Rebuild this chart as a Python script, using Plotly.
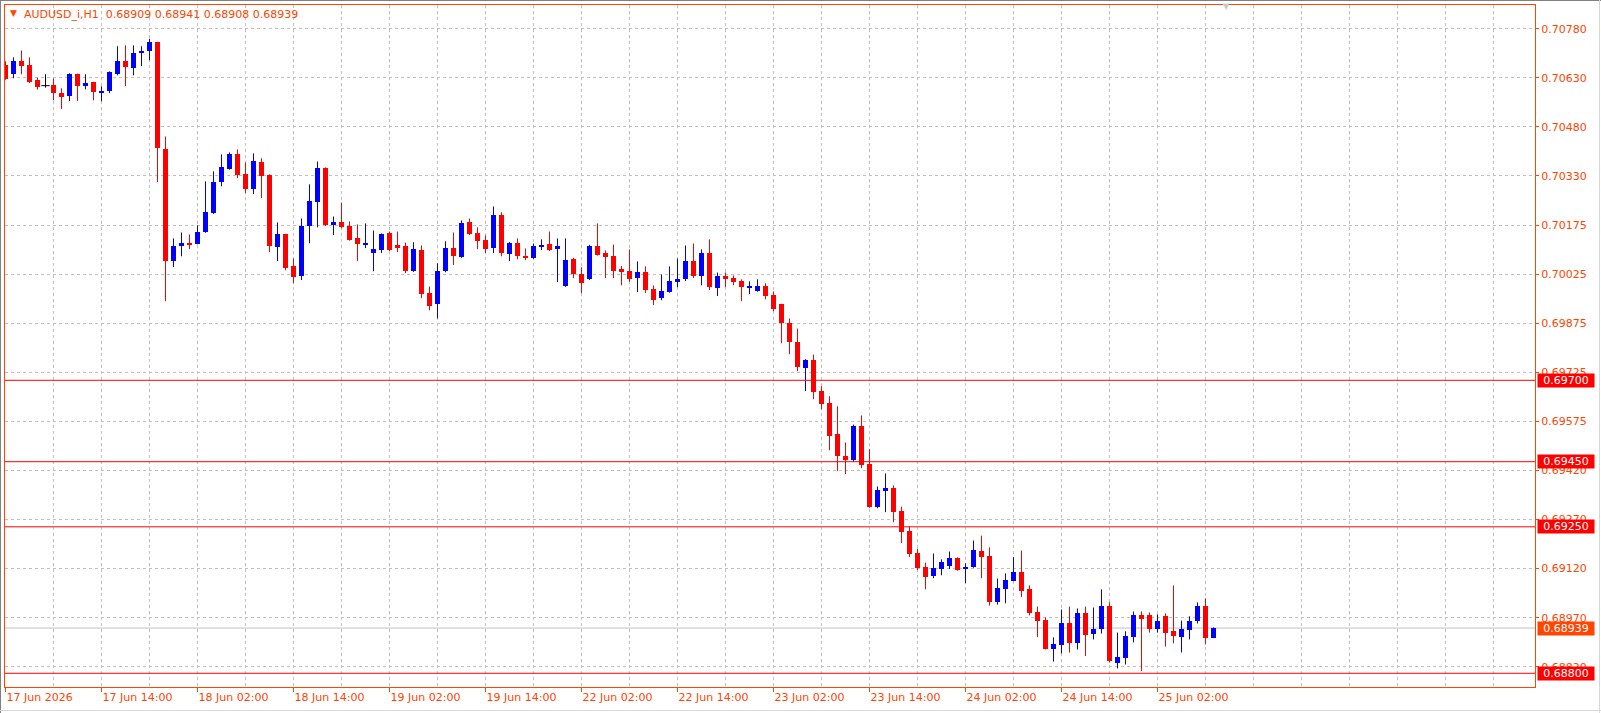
import plotly.graph_objects as go

# ---------------- data (AUDUSD_i, H1) ----------------
open_ = [0.70667,0.70640,0.70680,0.70667,0.70621,0.70605,0.70606,0.70584,0.70573,0.70640,
0.70605,0.70615,0.70585,0.70588,0.70640,0.70680,0.70659,0.70705,0.70711,0.70738,
0.70412,0.70066,0.70112,0.70123,0.70120,0.70155,0.70213,0.70309,0.70349,0.70394,
0.70335,0.70287,0.70372,0.70330,0.70109,0.70148,0.70050,0.70020,0.70174,0.70247,
0.70351,0.70177,0.70185,0.70173,0.70136,0.70118,0.70091,0.70100,0.70151,0.70117,
0.70111,0.70035,0.70099,0.69967,0.69933,0.70035,0.70105,0.70078,0.70185,0.70154,
0.70130,0.70106,0.70209,0.70087,0.70123,0.70083,0.70075,0.70109,0.70120,0.70103,
0.69989,0.70074,0.70028,0.70011,0.70114,0.70090,0.70081,0.70041,0.70037,0.70014,
0.70034,0.69979,0.69952,0.69971,0.70002,0.70011,0.70065,0.70020,0.70090,0.69983,
0.70019,0.70013,0.70004,0.69986,0.69974,0.69991,0.69961,0.69933,0.69875,0.69819,
0.69737,0.69761,0.69667,0.69630,0.69534,0.69466,0.69455,0.69561,0.69442,0.69310,
0.69359,0.69368,0.69297,0.69236,0.69168,0.69125,0.69098,0.69120,0.69129,0.69153,
0.69120,0.69126,0.69177,0.69159,0.69018,0.69058,0.69085,0.69110,0.69058,0.68987,
0.68965,0.68876,0.68886,0.68956,0.68892,0.68984,0.68922,0.68935,0.69008,0.68833,
0.68846,0.68910,0.68978,0.68978,0.68935,0.68975,0.68929,0.68913,0.68932,0.68962,
0.69008,0.68909]
high = [0.70680,0.70692,0.70713,0.70692,0.70629,0.70640,0.70627,0.70597,0.70643,0.70642,
0.70640,0.70617,0.70603,0.70649,0.70726,0.70729,0.70729,0.70726,0.70749,0.70740,
0.70449,0.70136,0.70154,0.70148,0.70176,0.70311,0.70342,0.70394,0.70400,0.70409,
0.70369,0.70397,0.70382,0.70333,0.70185,0.70150,0.70074,0.70197,0.70302,0.70372,
0.70354,0.70203,0.70246,0.70188,0.70179,0.70182,0.70160,0.70151,0.70157,0.70157,
0.70123,0.70124,0.70114,0.69988,0.70059,0.70127,0.70154,0.70191,0.70197,0.70170,
0.70145,0.70234,0.70216,0.70125,0.70136,0.70105,0.70120,0.70133,0.70157,0.70136,
0.70136,0.70076,0.70047,0.70116,0.70182,0.70099,0.70117,0.70051,0.70102,0.70065,
0.70050,0.69991,0.70025,0.70050,0.70074,0.70114,0.70120,0.70102,0.70133,0.70031,
0.70031,0.70022,0.70010,0.70004,0.70010,0.69998,0.69973,0.69935,0.69890,0.69859,
0.69765,0.69779,0.69682,0.69651,0.69620,0.69509,0.69564,0.69592,0.69488,0.69374,
0.69414,0.69377,0.69312,0.69251,0.69183,0.69140,0.69168,0.69150,0.69174,0.69156,
0.69138,0.69208,0.69223,0.69187,0.69091,0.69107,0.69157,0.69177,0.69070,0.69005,
0.68972,0.68910,0.68996,0.69005,0.68999,0.69005,0.69002,0.69058,0.69018,0.68925,
0.68929,0.68990,0.68990,0.68987,0.68981,0.68984,0.69070,0.68962,0.68975,0.69018,
0.69030,0.68941]
low = [0.70623,0.70628,0.70640,0.70613,0.70593,0.70599,0.70560,0.70533,0.70558,0.70558,
0.70594,0.70560,0.70557,0.70582,0.70637,0.70604,0.70637,0.70665,0.70683,0.70309,
0.69943,0.70048,0.70081,0.70103,0.70118,0.70153,0.70211,0.70296,0.70347,0.70321,
0.70275,0.70272,0.70260,0.70094,0.70066,0.70038,0.69998,0.70008,0.70121,0.70170,
0.70174,0.70146,0.70167,0.70129,0.70066,0.70106,0.70035,0.70091,0.70097,0.70094,
0.70029,0.70033,0.69952,0.69915,0.69890,0.70032,0.70054,0.70076,0.70146,0.70103,
0.70091,0.70091,0.70081,0.70066,0.70072,0.70069,0.70073,0.70100,0.70097,0.70002,
0.69987,0.70014,0.69968,0.70008,0.70083,0.70014,0.70014,0.69992,0.70002,0.69971,
0.69968,0.69931,0.69946,0.69969,0.69986,0.70005,0.70014,0.69992,0.69977,0.69959,
0.69986,0.69992,0.69943,0.69965,0.69972,0.69949,0.69912,0.69814,0.69780,0.69728,
0.69667,0.69642,0.69611,0.69485,0.69421,0.69412,0.69449,0.69430,0.69308,0.69307,
0.69295,0.69264,0.69200,0.69157,0.69117,0.69058,0.69092,0.69101,0.69120,0.69115,
0.69077,0.69124,0.69092,0.69008,0.69011,0.69015,0.69083,0.69034,0.68978,0.68911,
0.68873,0.68836,0.68861,0.68864,0.68873,0.68853,0.68904,0.68922,0.68833,0.68815,
0.68827,0.68895,0.68807,0.68925,0.68925,0.68882,0.68892,0.68864,0.68904,0.68953,
0.68889,0.68908]
close = [0.70625,0.70680,0.70665,0.70616,0.70601,0.70605,0.70582,0.70570,0.70640,0.70604,
0.70612,0.70585,0.70590,0.70646,0.70680,0.70662,0.70704,0.70713,0.70738,0.70413,
0.70066,0.70111,0.70123,0.70118,0.70157,0.70216,0.70308,0.70354,0.70394,0.70330,
0.70287,0.70375,0.70327,0.70112,0.70148,0.70045,0.70017,0.70173,0.70252,0.70351,
0.70176,0.70185,0.70171,0.70131,0.70118,0.70123,0.70102,0.70148,0.70100,0.70106,
0.70035,0.70102,0.69965,0.69928,0.70037,0.70105,0.70081,0.70182,0.70149,0.70127,
0.70103,0.70209,0.70091,0.70123,0.70081,0.70078,0.70111,0.70117,0.70100,0.70111,
0.70071,0.70026,0.69998,0.70114,0.70085,0.70078,0.70035,0.70035,0.70011,0.70034,
0.69977,0.69946,0.69973,0.70004,0.70010,0.70065,0.70020,0.70090,0.69986,0.70019,
0.70011,0.70002,0.69986,0.69991,0.69991,0.69959,0.69919,0.69876,0.69817,0.69740,
0.69762,0.69664,0.69627,0.69528,0.69467,0.69455,0.69561,0.69439,0.69310,0.69362,
0.69368,0.69295,0.69233,0.69166,0.69123,0.69095,0.69122,0.69143,0.69153,0.69117,
0.69128,0.69180,0.69157,0.69018,0.69061,0.69088,0.69110,0.69054,0.68984,0.68962,
0.68876,0.68889,0.68956,0.68892,0.68984,0.68919,0.68935,0.69008,0.68837,0.68849,
0.68916,0.68978,0.68968,0.68935,0.68962,0.68925,0.68916,0.68935,0.68962,0.69008,
0.68907,0.68939]

tick_bars = [0, 12, 24, 36, 48, 60, 72, 84, 96, 108, 120, 132, 144]
tick_labels = ["17 Jun 2026", "17 Jun 14:00", "18 Jun 02:00", "18 Jun 14:00",
               "19 Jun 02:00", "19 Jun 14:00", "22 Jun 02:00", "22 Jun 14:00",
               "23 Jun 02:00", "23 Jun 14:00", "24 Jun 02:00", "24 Jun 14:00",
               "25 Jun 02:00"]
price_ticks = [0.707800, 0.706292, 0.704785, 0.703277, 0.701769, 0.700262, 0.698754,
               0.697246, 0.695738, 0.694231, 0.692723, 0.691215, 0.689708, 0.688200]
price_labels = ["0.70780", "0.70630", "0.70480", "0.70330", "0.70175", "0.70025", "0.69875",
                "0.69725", "0.69575", "0.69420", "0.69270", "0.69120", "0.68970", "0.68820"]
levels = [0.69700, 0.69450, 0.69250, 0.68800]
symbol = "AUDUSD_i,H1"

# ---------------- styling ----------------
FG = "#FF4500"
UP = "#0000FF"
DN = "#FF0000"
GRID = "#C0C0C0"
FONT = "DejaVu Sans"
W, H = 1601, 713
ML, MR, MT, MB = 5, 66, 5, 26
PW, PH = W - ML - MR, H - MT - MB

n = len(close)
bars = list(range(n))

fig = go.Figure()

def color_of(i):
    if close[i] > open_[i]:
        return UP
    if close[i] < open_[i]:
        return DN
    return "#000000"

# wicks grouped by colour
for col in (UP, DN, "#000000"):
    xs, ys = [], []
    for i in bars:
        if color_of(i) == col:
            xs += [i, i, None]
            ys += [low[i], high[i], None]
    if xs:
        fig.add_trace(go.Scatter(x=xs, y=ys, mode="lines",
                                 line=dict(color=col, width=1),
                                 hoverinfo="skip", showlegend=False))

# bodies
for col in (UP, DN):
    idx = [i for i in bars if color_of(i) == col]
    fig.add_trace(go.Bar(x=idx,
                         y=[abs(close[i] - open_[i]) for i in idx],
                         base=[min(close[i], open_[i]) for i in idx],
                         width=0.625, marker=dict(color=col, line=dict(width=0)),
                         hoverinfo="skip", showlegend=False))

# doji bodies
dj = [i for i in bars if color_of(i) == "#000000"]
if dj:
    fig.add_trace(go.Scatter(x=dj, y=[open_[i] for i in dj], mode="markers",
                             marker=dict(symbol="line-ew", size=6,
                                         line=dict(color="#000000", width=1)),
                             hoverinfo="skip", showlegend=False))

# x range: 8 px per bar
x0 = -0.0625
x1 = x0 + PW / 8.0
# y range (px per price unit ~ 32556)
y_top = 0.708528
y_bot = 0.687579

shapes = []
for lv in levels:
    shapes.append(dict(type="line", xref="paper", x0=0, x1=1, yref="y", y0=lv, y1=lv,
                       line=dict(color=DN, width=1), layer="above"))
shapes.append(dict(type="line", xref="paper", x0=0, x1=1, yref="y",
                   y0=close[-1], y1=close[-1], line=dict(color=GRID, width=1), layer="below"))

def px_x(p):
    return (p - ML) / PW

def px_y(p):
    return (H - MB - p) / PH

# window frame
shapes.append(dict(type="line", xref="paper", yref="paper", x0=px_x(0), x1=px_x(W),
                   y0=px_y(0.5), y1=px_y(0.5), line=dict(color="#808080", width=1)))
shapes.append(dict(type="line", xref="paper", yref="paper", x0=px_x(0.5), x1=px_x(0.5),
                   y0=px_y(0), y1=px_y(H), line=dict(color="#808080", width=1)))
shapes.append(dict(type="line", xref="paper", yref="paper", x0=px_x(0), x1=px_x(W),
                   y0=px_y(710.5), y1=px_y(710.5), line=dict(color="#D8D8D8", width=1)))
shapes.append(dict(type="line", xref="paper", yref="paper", x0=px_x(1599.5), x1=px_x(1599.5),
                   y0=px_y(0), y1=px_y(H), line=dict(color="#D8D8D8", width=1)))

annotations = []
for lv in levels:
    annotations.append(dict(xref="paper", x=px_x(1537), xanchor="left", yref="y", y=lv,
                            yanchor="middle", text=f"{lv:.5f}", showarrow=False,
                            bgcolor=DN, font=dict(family=FONT, size=11, color="white"),
                            width=54, height=11, borderpad=1, align="center"))
annotations.append(dict(xref="paper", x=px_x(1537), xanchor="left", yref="y", y=close[-1],
                        yanchor="middle", text=f"{close[-1]:.5f}", showarrow=False,
                        bgcolor=FG, font=dict(family=FONT, size=11, color="white"),
                        width=54, height=11, borderpad=1, align="center"))
# header
annotations.append(dict(xref="paper", yref="paper", x=px_x(8), y=px_y(13.5), xanchor="left",
                        yanchor="middle", text="▼", showarrow=False,
                        font=dict(family=FONT, size=9, color=FG)))
hdr = f"{symbol}  {open_[-1]:.5f} {high[-1]:.5f} {low[-1]:.5f} {close[-1]:.5f}"
annotations.append(dict(xref="paper", yref="paper", x=px_x(22), y=px_y(14.5), xanchor="left",
                        yanchor="middle", text=hdr, showarrow=False,
                        font=dict(family=FONT, size=11, color=FG)))
# chart shift marker
annotations.append(dict(xref="paper", yref="paper", x=px_x(1226), y=px_y(7), xanchor="center",
                        yanchor="middle", text="▼", showarrow=False,
                        font=dict(family=FONT, size=8, color="#C8C8C8")))

fig.update_layout(
    width=W, height=H,
    margin=dict(l=ML, r=MR, t=MT, b=MB, pad=0),
    paper_bgcolor="white", plot_bgcolor="white",
    bargap=0, barmode="overlay",
    showlegend=False,
    shapes=shapes, annotations=annotations,
    font=dict(family=FONT, size=11, color=FG),
    xaxis=dict(range=[x0, x1], tickmode="array", tickvals=tick_bars, ticktext=tick_labels,
               ticks="outside", ticklen=4, tickcolor=FG, tickwidth=1,
               ticklabelposition="outside right",
               tickfont=dict(family=FONT, size=11, color=FG),
               showgrid=True, gridcolor=GRID, griddash="3px,3px", gridwidth=1,
               minor=dict(tickmode="linear", tick0=0, dtick=6, showgrid=True,
                          gridcolor=GRID, griddash="3px,3px", gridwidth=1, ticks=""),
               showline=True, mirror=True, linecolor=FG, linewidth=1,
               zeroline=False, fixedrange=True),
    yaxis=dict(range=[y_bot, y_top], side="right", tickmode="array",
               tickvals=price_ticks, ticktext=price_labels,
               ticks="outside", ticklen=3, tickcolor=FG, tickwidth=1,
               tickfont=dict(family=FONT, size=11, color=FG),
               showgrid=True, gridcolor=GRID, griddash="3px,3px", gridwidth=1,
               showline=True, mirror=True, linecolor=FG, linewidth=1,
               zeroline=False, fixedrange=True),
)

fig.write_html("out.html", config={"displayModeBar": False})
